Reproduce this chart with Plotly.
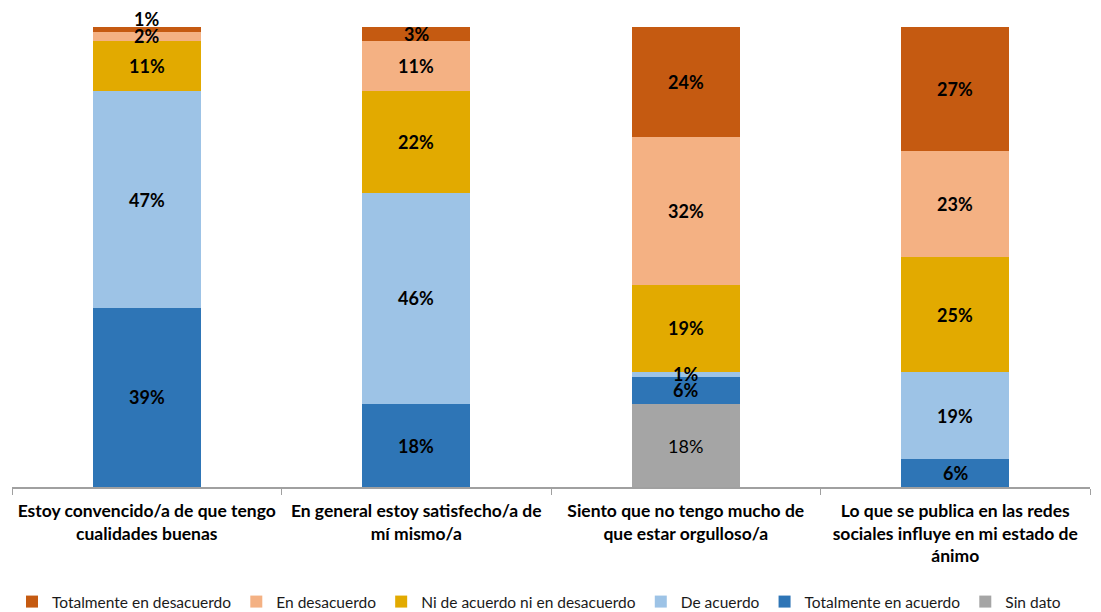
import plotly.graph_objects as go

categories = [
    "Estoy convencido/a de que tengo<br>cualidades buenas",
    "En general estoy satisfecho/a de<br>mí mismo/a",
    "Siento que no tengo mucho de<br>que estar orgulloso/a",
    "Lo que se publica en las redes<br>sociales influye en mi estado de<br>ánimo",
]
series_names = ["Sin dato", "Totalmente en acuerdo", "De acuerdo",
                "Ni de acuerdo ni en desacuerdo", "En desacuerdo", "Totalmente en desacuerdo"]
sin_dato = [0, 0, 18, 0]
tot_acuerdo = [39, 18, 6, 6]
de_acuerdo = [47, 46, 1, 19]
ni_ni = [11, 22, 19, 25]
en_desacuerdo = [2, 11, 32, 23]
tot_desacuerdo = [1, 3, 24, 27]

values = [sin_dato, tot_acuerdo, de_acuerdo, ni_ni, en_desacuerdo, tot_desacuerdo]
colors = ["#A5A5A5", "#2E75B6", "#9DC3E6", "#E2AA00", "#F4B183", "#C55A11"]

FONT = "Lato"
fig = go.Figure()
for name, vals, col in zip(series_names, values, colors):
    fig.add_trace(go.Bar(x=categories, y=vals, name=name, marker=dict(color=col, line=dict(width=0)),
                         width=0.4))

# labels
cum = [0, 0, 0, 0]
for si, vals in enumerate(values):
    for ci, v in enumerate(vals):
        if v > 0:
            ysh = 0
            if si == 5 and ci == 0:
                ysh = 10
            fig.add_annotation(x=categories[ci], y=cum[ci] + v / 2, text=f"{v}%", showarrow=False,
                               yshift=ysh,
                               font=dict(family=FONT, size=18, color="#000000",
                                         weight="normal" if si == 0 else "bold"))
        cum[ci] += v

fig.update_layout(
    barmode="stack",
    width=1093, height=604,
    margin=dict(l=4, r=11, t=19, b=125, autoexpand=False),
    plot_bgcolor="white", paper_bgcolor="white",
    showlegend=True,
    legend=dict(orientation="h", x=0.0, xanchor="left", y=-0.25, yanchor="middle",
                traceorder="reversed", font=dict(family=FONT, size=15.5, color="#1a1a1a"),
                itemwidth=30),
    xaxis=dict(type="category", range=[-0.5, 3.5], tickson="boundaries", ticks="outside",
               ticklen=6, tickcolor="#A0A0A0", showline=True, linecolor="#A0A0A0", linewidth=1.5,
               automargin=False, ticklabelstandoff=7, tickangle=0,
               tickfont=dict(family=FONT, size=17.5, color="#000000", weight="bold")),
    yaxis=dict(range=[0, 100], visible=False, automargin=False),
)
fig.write_html("out.html")
